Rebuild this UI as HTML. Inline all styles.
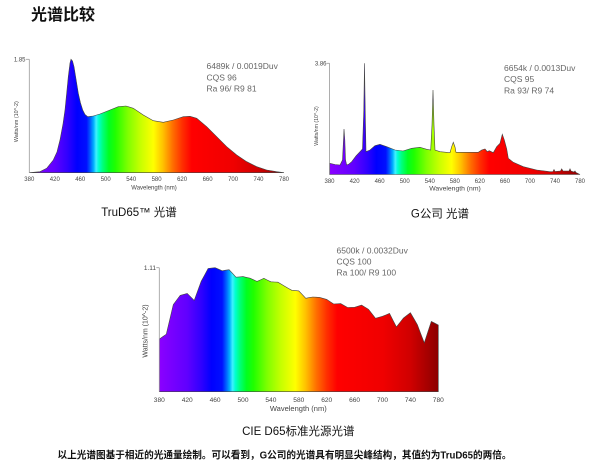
<!DOCTYPE html>
<html><head><meta charset="utf-8"><style>
html,body{margin:0;padding:0;background:#fff;}
svg{display:block;}
text{font-family:"Liberation Sans","Noto Sans CJK SC",sans-serif;}
</style></head><body>
<svg width="600" height="469" viewBox="0 0 600 469" xmlns="http://www.w3.org/2000/svg">
<defs>
<linearGradient id="g1" gradientUnits="userSpaceOnUse" x1="29.3" y1="0" x2="284" y2="0">
<stop offset="0" stop-color="#8b00ff"/><stop offset="0.1" stop-color="#6000ff"/><stop offset="0.15" stop-color="#3000ff"/><stop offset="0.1875" stop-color="#0000ff"/><stop offset="0.225" stop-color="#0010ff"/><stop offset="0.24" stop-color="#0060ff"/><stop offset="0.2525" stop-color="#00b0ff"/><stop offset="0.2625" stop-color="#40f0ff"/><stop offset="0.2725" stop-color="#00ffd0"/><stop offset="0.2875" stop-color="#00ff80"/><stop offset="0.3125" stop-color="#00ff20"/><stop offset="0.3375" stop-color="#20ff00"/><stop offset="0.3875" stop-color="#80ff00"/><stop offset="0.4375" stop-color="#c8ff00"/><stop offset="0.4875" stop-color="#ffff00"/><stop offset="0.525" stop-color="#ffc000"/><stop offset="0.5625" stop-color="#ff7000"/><stop offset="0.6" stop-color="#ff3000"/><stop offset="0.6375" stop-color="#ff0000"/><stop offset="0.8" stop-color="#f00000"/><stop offset="0.9" stop-color="#d00000"/><stop offset="1" stop-color="#8b0000"/>
</linearGradient>
<linearGradient id="g2" href="#g1" xlink:href="#g1" xmlns:xlink="http://www.w3.org/1999/xlink" gradientUnits="userSpaceOnUse" x1="329.5" y1="0" x2="580" y2="0"/>
<linearGradient id="g3" href="#g1" xlink:href="#g1" xmlns:xlink="http://www.w3.org/1999/xlink" gradientUnits="userSpaceOnUse" x1="159.3" y1="0" x2="438.3" y2="0"/>
</defs>

<!-- Title -->
<text x="31" y="20" font-size="16" font-weight="bold" fill="#111">光谱比较</text>

<!-- Chart 1 -->
<path fill="url(#g1)" stroke="#444" stroke-width="0.6" d="M29.3,172.7 L40,171.7 L46.7,168.3 L53.3,160 L57,152 L60,140 L63,124 L65,110 L67,90 L68.3,76.7 L70,63 L71,59.3 L72.5,61 L74,66.7 L76,79 L78.3,93.3 L80.5,103 L82.7,110 L85,114.5 L87.7,116.7 L93.3,116 L100,114 L110,110 L118.3,106.7 L126,106 L133.3,108.3 L143.3,115 L153.3,120.7 L163.3,122.3 L173.3,120 L183.3,116.7 L190,116.3 L196.7,118.3 L206.7,126.7 L216.7,136.7 L226.7,146.7 L236.7,155 L246.7,161.7 L256.7,166.7 L266.7,170 L276.7,171.7 L284,172.7 Z"/>
<line x1="29.3" y1="59.3" x2="29.3" y2="173" stroke="#999" stroke-width="0.8"/>
<line x1="26" y1="59.3" x2="29.3" y2="59.3" stroke="#999" stroke-width="0.8"/>
<text x="25.5" y="61.5" font-size="6" fill="#444" text-anchor="end">1.85</text>
<text transform="translate(18,121.7) rotate(-90)" font-size="5.4" fill="#444" text-anchor="middle">Watts/nm (10^-2)</text>
<g font-size="6" fill="#444" text-anchor="middle">
<text x="29.3" y="181">380</text><text x="54.8" y="181">420</text><text x="80.2" y="181">460</text><text x="105.7" y="181">500</text><text x="131.2" y="181">540</text><text x="156.6" y="181">580</text><text x="182.1" y="181">620</text><text x="207.6" y="181">660</text><text x="233.1" y="181">700</text><text x="258.5" y="181">740</text><text x="284" y="181">780</text>
</g>
<text x="154" y="189.5" font-size="6" fill="#444" text-anchor="middle">Wavelength (nm)</text>
<g font-size="8.5" fill="#666">
<text x="206.5" y="69">6489k / 0.0019Duv</text>
<text x="206.5" y="80.5">CQS 96</text>
<text x="206.5" y="91.5">Ra 96/ R9 81</text>
</g>
<text x="139" y="216" font-size="11.5" fill="#111" text-anchor="middle">TruD65™ 光谱</text>

<!-- Chart 2 -->
<path fill="url(#g2)" stroke="#444" stroke-width="0.6" d="M329.5,174.5 L329.5,163.3 L335,164.5 L340,165 L342.5,160 L343.5,140 L344,129 L344.8,140 L345.5,160 L346.7,165 L349,164 L351.7,161.7 L356,156 L360,151.7 L362.5,149 L363.8,110 L364.5,63.3 L365.2,110 L366,151.7 L370,150 L375,145.7 L380,144.3 L386.7,146.7 L395,150 L403,151 L411.7,148.3 L420,147.3 L426.7,149.3 L430.7,150 L432,125 L433,90 L434,125 L435,150 L440,151.7 L450,152.7 L451.7,146.7 L453.3,142.3 L455,147 L456,152.3 L478.3,152.3 L481.7,150 L485,149 L487.3,151.7 L489.3,150.7 L493.3,152.7 L496.7,146.7 L500,143.3 L502.3,134.3 L504.3,140 L506.7,149 L508.3,158.3 L513.3,162.3 L523.3,166.7 L536.7,170 L550,171.7 L553,171.5 L554,169.5 L555,171.5 L560.5,171 L561.7,168.8 L563,171 L569,171 L570,168.8 L571,171 L574,172 L575,171 L576,172.5 L580,174.5 Z"/>
<line x1="329.5" y1="63.3" x2="329.5" y2="174.5" stroke="#999" stroke-width="0.8"/>
<line x1="326.5" y1="63.3" x2="329.5" y2="63.3" stroke="#999" stroke-width="0.8"/>
<text x="326.5" y="65.5" font-size="6" fill="#444" text-anchor="end">3.86</text>
<text transform="translate(318,126) rotate(-90)" font-size="5.2" fill="#444" text-anchor="middle">Watts/nm (10^-2)</text>
<g font-size="6" fill="#444" text-anchor="middle">
<text x="329.5" y="183">380</text><text x="354.6" y="183">420</text><text x="379.6" y="183">460</text><text x="404.7" y="183">500</text><text x="429.8" y="183">540</text><text x="454.8" y="183">580</text><text x="479.8" y="183">620</text><text x="504.9" y="183">660</text><text x="529.9" y="183">700</text><text x="555" y="183">740</text><text x="580" y="183">780</text>
</g>
<text x="455" y="190.5" font-size="6.8" fill="#444" text-anchor="middle">Wavelength (nm)</text>
<g font-size="8.5" fill="#666">
<text x="504" y="71">6654k / 0.0013Duv</text>
<text x="504" y="82">CQS 95</text>
<text x="504" y="93.5">Ra 93/ R9 74</text>
</g>
<text x="440" y="217.5" font-size="11.5" fill="#111" text-anchor="middle">G公司 光谱</text>

<!-- Chart 3 -->
<path fill="url(#g3)" stroke="#444" stroke-width="0.6" d="M159.3,391.7 L159.3,339.1 L162.8,336.6 L166.3,334.2 L169.8,319.4 L173.3,304.6 L176.7,300 L180.2,295.4 L183.7,294.4 L187.2,293.4 L190.7,296.9 L194.2,300.5 L197.7,290.9 L201.2,281.3 L204.7,274.9 L208.1,268.5 L211.6,268.1 L215.1,267.7 L218.6,269.2 L222.1,270.8 L225.6,270.2 L229.1,269.7 L232.6,273.4 L236,277.2 L239.5,276.9 L243,276.6 L246.5,277.4 L250,278.2 L253.5,279.8 L257,281.4 L260.5,279.9 L263.9,278.3 L267.4,280.1 L270.9,281.8 L274.4,282 L277.9,282.2 L281.4,284.3 L284.9,286.4 L288.3,288.4 L291.8,290.3 L295.3,290.6 L298.8,290.9 L302.3,294.6 L305.8,298.3 L309.3,297.6 L312.8,297 L316.2,297.2 L319.7,297.4 L323.2,298.4 L326.7,299.4 L330.2,301.7 L333.7,304 L337.2,303.8 L340.7,303.6 L344.1,305.5 L347.6,307.5 L351.1,307.4 L354.6,307.3 L358.1,306.2 L361.6,305.1 L365.1,307.2 L368.5,309.3 L372,313.8 L375.5,318.3 L379,317.3 L382.5,316.3 L386,314.9 L389.5,313.4 L392.9,320.1 L396.4,326.9 L399.9,322.5 L403.4,318.1 L406.9,315.4 L410.4,312.7 L413.9,318.7 L417.4,324.8 L420.8,333.8 L424.3,342.8 L427.8,332.1 L431.3,321.4 L434.8,323.2 L438.3,325 L438.3,391.7 Z"/>
<line x1="159.3" y1="267.7" x2="159.3" y2="391.7" stroke="#999" stroke-width="0.8"/>
<line x1="156.3" y1="267.7" x2="159.3" y2="267.7" stroke="#999" stroke-width="0.8"/>
<text x="156" y="270" font-size="6.5" fill="#444" text-anchor="end">1.11</text>
<text transform="translate(147.5,331) rotate(-90)" font-size="7" fill="#444" text-anchor="middle">Watts/nm (10^-2)</text>
<g font-size="6.6" fill="#444" text-anchor="middle">
<text x="159.3" y="401.8">380</text><text x="187.2" y="401.8">420</text><text x="215.1" y="401.8">460</text><text x="243" y="401.8">500</text><text x="270.9" y="401.8">540</text><text x="298.8" y="401.8">580</text><text x="326.7" y="401.8">620</text><text x="354.6" y="401.8">660</text><text x="382.5" y="401.8">700</text><text x="410.4" y="401.8">740</text><text x="438.3" y="401.8">780</text>
</g>
<text x="298.3" y="410.8" font-size="7.5" fill="#444" text-anchor="middle">Wavelength (nm)</text>
<g font-size="8.5" fill="#666">
<text x="336.5" y="253.5">6500k / 0.0032Duv</text>
<text x="336.5" y="264.5">CQS 100</text>
<text x="336.5" y="275.5">Ra 100/ R9 100</text>
</g>
<text x="298.3" y="435" font-size="11.5" fill="#111" text-anchor="middle">CIE D65标准光源光谱</text>

<!-- Footer -->
<text x="57.5" y="458.5" font-size="10" font-weight="bold" fill="#111" textLength="454" lengthAdjust="spacingAndGlyphs">以上光谱图基于相近的光通量绘制。可以看到，G公司的光谱具有明显尖峰结构，其值约为TruD65的两倍。</text>
</svg>
</body></html>
